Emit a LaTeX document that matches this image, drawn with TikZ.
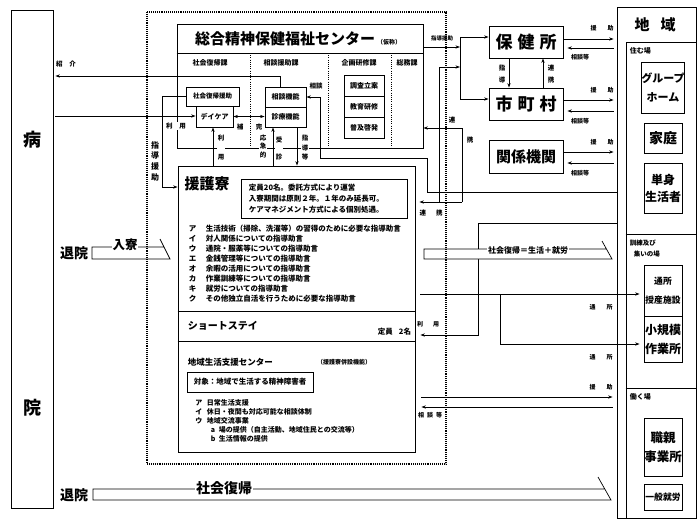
\documentclass[tikz,border=0pt]{standalone}
\usepackage{fontspec}
\setmainfont{Noto Sans CJK JP}
\usetikzlibrary{arrows.meta}
\newcommand{\myfs}[2]{\fontsize{#1}{#2}\selectfont}
\begin{document}
\begin{tikzpicture}[x=1pt,y=-1pt,line width=0.7pt,
 box/.style={draw,line width=0.8pt,inner sep=0pt,align=center},
 lab/.style={inner sep=0.6pt,align=center,font=\myfs{6.5}{7}\bfseries},
 wlab/.style={lab,fill=white},
 ar/.style={-{Stealth[length=4.5pt,width=3.2pt]}},
 dar/.style={{Stealth[length=4.5pt,width=3.2pt]}-{Stealth[length=4.5pt,width=3.2pt]}},
 dotln/.style={line width=1.1pt,dash pattern=on 0.8pt off 1.1pt},
 thindot/.style={line width=0.8pt,dash pattern=on 0.8pt off 1.4pt},
]
\useasboundingbox (0,0) rectangle (700,523);

% ---------- hospital ----------
\node[box,minimum width=42pt,minimum height=498pt] (hosp) at (32,259) {};
\node[lab,font=\myfs{18}{18}\bfseries] (byo) at (32,140) {病};
\node[lab,font=\myfs{18}{18}\bfseries] (inT) at (32,408) {院};

% ---------- center header ----------
\node[box,minimum width=246pt,minimum height=124pt] (cen) at (300,86) {};
\draw (cen.west |- 0,53) -- (cen.east |- 0,53);
\node[lab,font=\myfs{15}{15}\bfseries] (title) at (285,39) {総合精神保健福祉センター};
\node[lab,font=\myfs{6}{6}\bfseries] (kasho) at (389,42) {（仮称）};
\foreach \xx in {250,328,391} \draw[thindot] (\xx,53) -- (\xx,148);
\node[lab,font=\myfs{7}{7}\bfseries] (ka1) at (210,63) {社会復帰課};
\node[lab,font=\myfs{7}{7}\bfseries] (ka2) at (281,63) {相談援助課};
\node[lab,font=\myfs{7}{7}\bfseries] (ka3) at (359,63) {企画研修課};
\node[lab,font=\myfs{7}{7}\bfseries] (ka4) at (407,63) {総務課};

\node[box,fill=white,minimum width=53pt,minimum height=19pt,font=\myfs{6.5}{7}\bfseries] (shaf) at (212.5,96.5) {社会復帰援助};
\node[box,fill=white,minimum width=37pt,minimum height=21pt,font=\myfs{7}{7}\bfseries] (dc) at (214.5,116.5) {デイケア};
\node[box,fill=white,minimum width=41pt,minimum height=20pt,font=\myfs{7}{7}\bfseries] (soud) at (285.5,97) {相談機能};
\node[box,fill=white,minimum width=41pt,minimum height=20pt,font=\myfs{7}{7}\bfseries] (shin) at (285.5,117) {診療機能};
\node[box,minimum width=40pt,minimum height=21pt,font=\myfs{7}{7}\bfseries] (kk1) at (364,85.5) {調査立案};
\node[box,minimum width=40pt,minimum height=21pt,font=\myfs{7}{7}\bfseries] (kk2) at (364,106.5) {教育研修};
\node[box,minimum width=40pt,minimum height=21pt,font=\myfs{7}{7}\bfseries] (kk3) at (364,127.5) {普及啓発};

% ---------- 援護寮 block ----------
\node[box,fill=white,minimum width=237pt,minimum height=286pt] (enbox) at (296.5,309) {};
\draw (enbox.west |- 0,311) -- (enbox.east |- 0,311);
\draw (enbox.west |- 0,341) -- (enbox.east |- 0,341);
\node[lab,font=\myfs{15}{15}\bfseries] (engo) at (207,184) {援護寮};
\node[box,minimum width=166pt,minimum height=39pt] (note) at (324,198.5) {};
\node[lab,anchor=west,align=left,font=\myfs{7.5}{11}\bfseries] (notet) at (248,198.5)
 {定員20名。委託方式により運営\\入寮期間は原則２年。１年のみ延長可。\\ケアマネジメント方式による個別処遇。};
\node[lab,anchor=west,align=left,font=\myfs{7.5}{10}\bfseries] (list1) at (188,263.5)
 {\makebox[17pt][l]{ア}生活技術（掃除、洗濯等）の習得のために必要な指導助言\\
  \makebox[17pt][l]{イ}対人関係についての指導助言\\
  \makebox[17pt][l]{ウ}通院・服薬等についての指導助言\\
  \makebox[17pt][l]{エ}金銭管理等についての指導助言\\
  \makebox[17pt][l]{オ}余暇の活用についての指導助言\\
  \makebox[17pt][l]{カ}作業訓練等についての指導助言\\
  \makebox[17pt][l]{キ}就労についての指導助言\\
  \makebox[17pt][l]{ク}その他独立自活を行うために必要な指導助言};
\node[lab,anchor=west,font=\myfs{10}{10}\bfseries] (short) at (187,326) {ショートステイ};
\node[lab,anchor=east,font=\myfs{7.5}{7.5}\bfseries] (teiin) at (412,332) {定員\hspace{6pt}2名};
\node[lab,anchor=west,font=\myfs{8.5}{8.5}\bfseries] (chsc) at (187,362) {地域生活支援センター};
\node[lab,font=\myfs{6}{6}\bfseries] (heisetsu) at (344,362) {（援護寮併設機能）};
\node[box,minimum width=126pt,minimum height=20pt,font=\myfs{7.5}{7.5}\bfseries] (taisho) at (250,382) {対象：地域で生活する精神障害者};
\node[lab,anchor=west,align=left,font=\myfs{7}{9}\bfseries] (list2) at (194.5,421)
 {\makebox[11.5pt][l]{ア}日常生活支援\\
  \makebox[11.5pt][l]{イ}休日・夜間も対応可能な相談体制\\
  \makebox[11.5pt][l]{ウ}地域交流事業\\
  \hspace{15.5pt}\makebox[8pt][l]{a}場の提供（自主活動、地域住民との交流等）\\
  \hspace{15.5pt}\makebox[8pt][l]{b}生活情報の提供};

% ---------- right side agencies ----------
\node[box,minimum width=74pt,minimum height=32pt,font=\myfs{17}{17}\bfseries] (hoken) at (526,42) {保\hspace{5pt}健\hspace{5pt}所};
\node[box,minimum width=74pt,minimum height=32pt,font=\myfs{17}{17}\bfseries] (shicho) at (526,104) {市\hspace{5pt}町\hspace{5pt}村};
\node[box,minimum width=74pt,minimum height=33pt,font=\myfs{15}{15}\bfseries] (kankei) at (526,156.5) {関係機関};

% ---------- 地域 column ----------
\node[box,minimum width=79pt,minimum height=511pt] (chiiki) at (656.5,262.5) {};
\node[lab,font=\myfs{15}{15}\bfseries] (chiikit) at (655,25) {地\hspace{11pt}域};
\node[box,minimum width=70pt,minimum height=476pt] (col) at (661,280) {};
\draw (col.west |- 0,234) -- (col.east |- 0,234);
\draw (col.west |- 0,388) -- (col.east |- 0,388);
\node[lab,anchor=west,font=\myfs{7}{7}\bfseries] (sumu) at (629,51) {住む場};
\node[box,minimum width=38pt,minimum height=51pt,font=\myfs{11}{19}\bfseries] (gh) at (663,87.5) {グループ\\ホーム};
\node[box,minimum width=38pt,minimum height=30pt,font=\myfs{14}{14}\bfseries] (katei) at (663,138) {家庭};
\node[box,minimum width=38pt,minimum height=50pt,font=\myfs{12}{17}\bfseries] (tanshin) at (663,188) {単身\\生活者};
\node[lab,anchor=west,align=left,font=\myfs{6.5}{11}\bfseries] (kunren) at (629,249) {訓練及び\\\hspace{4pt}集いの場};
\node[box,minimum width=38pt,minimum height=51pt,font=\myfs{8.8}{19}\bfseries] (tsusho) at (663,290.5) {通所\\授産施設};
\node[box,minimum width=38pt,minimum height=46pt,font=\myfs{12}{19}\bfseries] (shokibo) at (663,339) {小規模\\作業所};
\node[lab,anchor=west,font=\myfs{7}{7}\bfseries] (hataraku) at (629,397) {働く場};
\node[box,minimum width=38pt,minimum height=58pt,font=\myfs{12.5}{19}\bfseries] (shokuoya) at (663,447) {職親\\事業所};
\node[box,minimum width=38pt,minimum height=26pt,font=\myfs{8.8}{9}\bfseries] (ippan) at (663,497) {一般就労};

% ---------- connectors (left/center) ----------
\draw[ar] (soud.north -| 280,0) |- ([xshift=2pt]hosp.east |- 0,76);
\draw[ar] ([xshift=2pt]hosp.east |- 0,116) -- (dc.west |- 0,116);
\draw[ar] (shaf.west) -- (162,96.5) -- (162,187) -- (enbox.west |- 0,187);
\draw[ar] (enbox.north -| 213,0) -- (dc.south -| 213,0);
\draw[ar] (enbox.north -| 273,0) -- (shin.south -| 273,0);
\draw[ar] (shin.south -| 297,0) -- (enbox.north -| 297,0);
\draw[dar] (dc.east) -- (dc.east -| shin.west);
\draw[ar] (chiiki.west |- 0,192) -- (427,192) -- (427,158) -- (320,158) -- (320,97) -- (soud.east |- 0,97);

% ---------- connectors (right) ----------
\draw[ar] (462,202) -- (462,128) -- (cen.east |- 0,128);
\draw[ar,shorten >=4pt] (462,202) -- (enbox.east |- 0,202);
\draw[ar] (439,202) -- (439,67) -- (460,67);
\draw[ar] (cen.east |- 0,47) -- (460,47);
\draw[dar] (hoken.west |- 0,37) -- (460,37) -- (460,99) -- (shicho.west |- 0,99);
\draw[ar] (hoken.south -| 509,0) -- (shicho.north -| 509,0);
\draw[ar] (shicho.north -| 543,0) -- (hoken.south -| 543,0);
\foreach \bx/\ya/\yb in {hoken/39/48, shicho/100/111, kankei/152/163} {
 \draw[ar,shorten >=3pt] (\bx.east |- 0,\ya) -- (chiiki.west |- 0,\ya);
 \draw[ar,shorten <=3pt,shorten >=4pt] (chiiki.west |- 0,\yb) -- (\bx.east |- 0,\yb);
}
\draw[ar,shorten >=5pt] (chiiki.west |- 0,223) -- (478,223) -- (478,335) -- (enbox.east |- 0,335);
\draw[ar,shorten <=5pt,shorten >=4pt] (enbox.east |- 0,294) -- (tsusho.west |- 0,294);
\draw[ar,shorten >=4pt] (500,294) -- (500,344) -- (shokibo.west |- 0,344);
\draw[ar,shorten <=6pt,shorten >=4pt] (enbox.east |- 0,397) -- (chiiki.west |- 0,397);
\draw[ar,shorten <=4pt,shorten >=6pt] (chiiki.west |- 0,407) -- (enbox.east |- 0,407);

% ---------- flag arrows ----------
\draw (160,239) -- (170,259) -- (92,259) -- (92,247) -- (164,247);
\node[lab,fill=white,font=\myfs{12.5}{12.5}\bfseries] (nyuryo) at (125,245) {入寮};
\node[lab,font=\myfs{14}{14}\bfseries] (taiin1) at (74,253) {退院};
\draw[fill=white] (602,241) -- (612,259) -- (424,259) -- (424,249) -- (606,249);
\node[lab,fill=white,font=\myfs{8}{8}\bfseries] (fukki1) at (528,250) {社会復帰＝生活＋就労};
\draw (598,477) -- (611,500) -- (93,500) -- (93,489) -- (604,489);
\node[lab,fill=white,font=\myfs{14}{14}\bfseries] (fukki2) at (224,488) {社会復帰};
\node[lab,font=\myfs{14}{14}\bfseries] (taiin2) at (74,495) {退院};

% ---------- labels ----------
\node[lab] (l-shokai) at (66,64) {紹\hspace{7pt}介};
\node[wlab] (l-riyo1) at (176,126) {利\hspace{7pt}用};
\node[lab,font=\myfs{8}{10.7}\bfseries] (l-shido1) at (155,161) {指\\導\\援\\助};
\node[wlab,font=\myfs{6.5}{6.5}\bfseries] (l-riyo2) at (221,147.5) {利\\[12.5pt]用};
\node[lab] (l-ho) at (240,127) {補};
\node[lab] (l-kan) at (259,127) {完};
\node[wlab,font=\myfs{6.5}{8.5}\bfseries] (l-okyu) at (263,146.5) {応\\急\\的};
\node[wlab,font=\myfs{6.5}{6.5}\bfseries] (l-jushin) at (279,148.5) {受\\[10.5pt]診};
\node[wlab,font=\myfs{6.5}{9.5}\bfseries] (l-shido2) at (305,148) {指\\導\\等};
\node[lab] (l-soudan) at (316,86) {相談};
\node[lab,font=\myfs{5.5}{5.5}\bfseries] (l-shido3) at (442,38) {指導援助};
\node[lab] (l-ren1) at (452,120) {連};
\node[lab] (l-kei1) at (470,140) {携};
\node[lab] (l-renkei2) at (431,213) {連\hspace{10pt}携};
\node[lab,font=\myfs{6.5}{6.5}\bfseries] (l-shido4) at (502,74) {指\\[5.5pt]導};
\node[lab,font=\myfs{6.5}{6.5}\bfseries] (l-renkei3) at (551,74) {連\\[5.5pt]携};
\foreach \yy/\nm in {28/a,90/b,142/c} \node[lab,font=\myfs{6}{6}\bfseries] (l-enjo\nm) at (602,\yy) {援\hspace{11pt}助};
\foreach \yy/\nm in {57/a,121/b,173/c} \node[lab,font=\myfs{6}{6}\bfseries] (l-sdt\nm) at (580,\yy) {相談等};
\node[lab,font=\myfs{6}{6}\bfseries] (l-tsu1) at (601,307) {通\hspace{11pt}所};
\node[lab,font=\myfs{6}{6}\bfseries] (l-tsu2) at (601,357) {通\hspace{11pt}所};
\node[lab,font=\myfs{6}{6}\bfseries] (l-enjod) at (601,387) {援\hspace{11pt}助};
\node[lab,font=\myfs{6}{6}\bfseries] (l-riyo3) at (428,324) {利\hspace{10pt}用};
\node[lab,font=\myfs{6}{6}\bfseries] (l-sdtd) at (430,415) {相\hspace{3pt}談\hspace{3pt}等};

% ---------- dotted outer frame ----------
\draw[dotln] (147,12) rectangle (446,464);
\end{tikzpicture}
\end{document}
